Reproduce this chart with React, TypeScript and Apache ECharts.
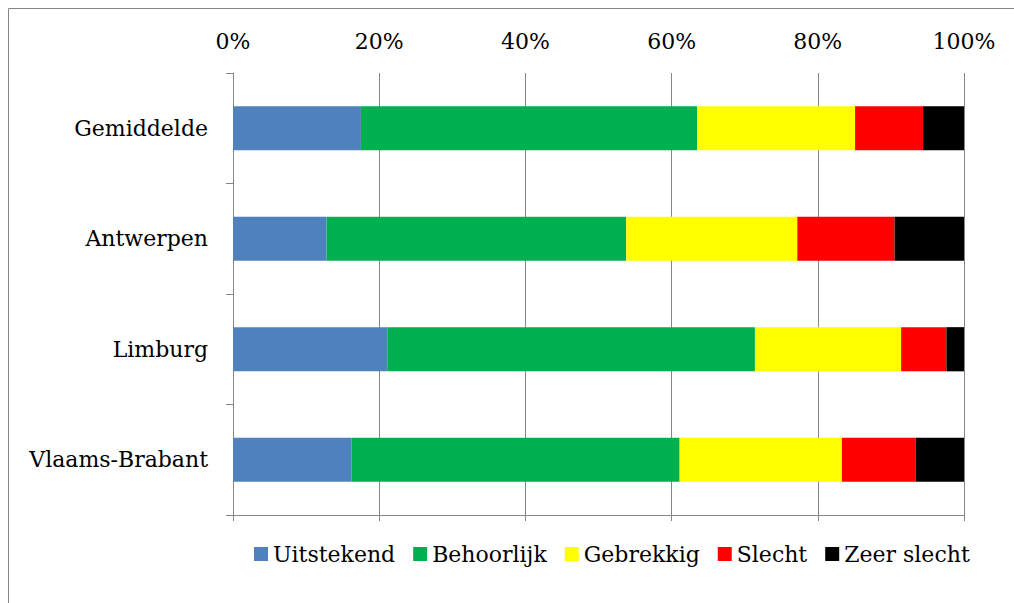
import React, { useEffect, useRef } from "react";
import * as echarts from "echarts";

const categories = ["Gemiddelde", "Antwerpen", "Limburg", "Vlaams-Brabant"];
const seriesNames = ["Uitstekend", "Behoorlijk", "Gebrekkig", "Slecht", "Zeer slecht"];
const uitstekend = [17.5, 12.8, 21.1, 16.2];
const behoorlijk = [46.0, 41.0, 50.3, 44.9];
const gebrekkig = [21.6, 23.4, 20.0, 22.2];
const slecht = [9.3, 13.3, 6.2, 10.1];
const zeerSlecht = [5.6, 9.5, 2.4, 6.6];
const colors = ["#4F81BD", "#00B050", "#FFFF00", "#FF0000", "#000000"];

const FONT = "DejaVu Serif";
const GRAY = "#868686";

export default function App() {
  const ref = useRef<HTMLDivElement>(null);
  useEffect(() => {
    if (!ref.current) return;
    const chart = echarts.init(ref.current, null, { renderer: "svg" });
    const values = [uitstekend, behoorlijk, gebrekkig, slecht, zeerSlecht];
    chart.setOption({
      animation: false,
      backgroundColor: "#ffffff",
      textStyle: { fontFamily: FONT },
      grid: { left: 233, right: 50, top: 73, bottom: 88, containLabel: false },
      legend: {
        data: seriesNames,
        left: 249,
        top: 538,
        itemWidth: 14,
        itemHeight: 14,
        itemGap: 18,
        icon: "rect",
        textStyle: { fontFamily: FONT, fontSize: 22, color: "#000", padding: [0, 0, 0, 0] },
      },
      xAxis: [
        {
          type: "value",
          min: 0,
          max: 100,
          interval: 20,
          position: "top",
          axisLabel: { formatter: "{value}%", fontSize: 22, color: "#000", fontFamily: FONT, margin: 21 },
          axisLine: { show: false },
          axisTick: { show: false },
          splitLine: { show: true, lineStyle: { color: GRAY, width: 1 } },
        },
        {
          type: "value",
          min: 0,
          max: 100,
          interval: 20,
          position: "bottom",
          axisLabel: { show: false },
          axisLine: { show: true, lineStyle: { color: GRAY, width: 1 } },
          axisTick: { show: true, length: 6, lineStyle: { color: GRAY } },
          splitLine: { show: false },
        },
      ],
      yAxis: {
        type: "category",
        inverse: true,
        data: categories,
        axisLine: { show: true, lineStyle: { color: GRAY, width: 1 } },
        axisTick: { show: true, length: 7, lineStyle: { color: GRAY } },
        axisLabel: { fontSize: 22, color: "#000", fontFamily: FONT, margin: 25 },
      },
      series: seriesNames.map((name, i) => ({
        name,
        type: "bar",
        stack: "total",
        xAxisIndex: 0,
        barWidth: "40%",
        itemStyle: { color: colors[i] },
        data: values[i],
      })),
      graphic: [
        { type: "line", shape: { x1: 8.5, y1: 8.5, x2: 1014, y2: 8.5 }, style: { stroke: GRAY, lineWidth: 1 } },
        { type: "line", shape: { x1: 8.5, y1: 8.5, x2: 8.5, y2: 603 }, style: { stroke: GRAY, lineWidth: 1 } },
      ],
    });
    return () => chart.dispose();
  }, []);
  return (
    <div
      ref={ref}
      style={{ position: "fixed", left: 0, top: 0, width: 1014, height: 603 }}
    />
  );
}
